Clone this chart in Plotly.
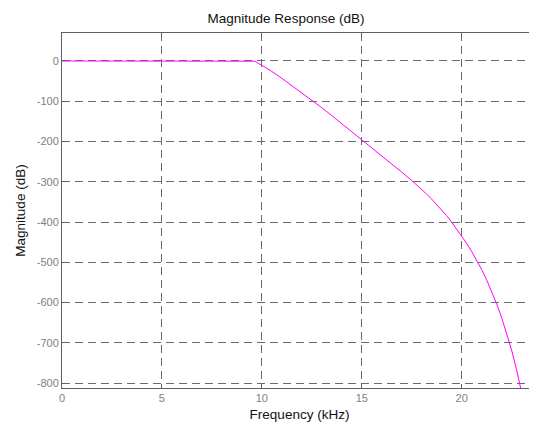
import plotly.graph_objects as go

# Frequency axis (kHz) and magnitude response (dB)
freq_khz = [0, 9.5, 9.6, 9.7, 9.8, 10.0, 10.5, 11.0, 11.5, 12.0, 12.6, 13.0, 13.5,
            14.0, 14.5, 15.1, 15.5, 16.0, 16.5, 17.0, 17.5, 17.75, 18.0, 18.25, 18.5,
            18.75, 19.0, 19.25, 19.5, 19.75, 20.0, 20.25, 20.5, 20.75, 21.0, 21.25,
            21.5, 21.75, 22.0, 22.25, 22.5, 22.75, 23.0, 23.05]
magnitude_db = [0, 0, -0.5, -2, -5, -9, -25.8, -43, -60.8, -79, -100.5, -116, -135.6,
                -155.4, -175.3, -199.3, -215.3, -235.4, -255.6, -275.9, -296.7, -307.5,
                -318.8, -330.6, -343.0, -356.1, -369.8, -384.3, -400.1, -416.8, -434.4,
                -453.0, -472.9, -494.4, -517.9, -543.6, -571.9, -602.9, -637.0, -675.1,
                -718.1, -767.1, -823.4, -835]

x_ticks = [0, 5, 10, 15, 20]
y_ticks = [0, -100, -200, -300, -400, -500, -600, -700, -800]

title_text = "Magnitude Response (dB)"
x_title = "Frequency (kHz)"
y_title = "Magnitude (dB)"

FONT = "Liberation Sans, Arial, sans-serif"
AXIS_COL = "#5f5f5f"
GRID_COL = "#6a6a6a"
TICK_COL = "#808080"

fig = go.Figure()
fig.add_trace(go.Scatter(
    x=freq_khz, y=magnitude_db, mode="lines",
    line=dict(color="#ff00ff", width=1),
    showlegend=False, hoverinfo="skip",
))

# page body has an 8px margin, so the figure is sized/offset to compensate
W, H = 529, 423
fig.update_layout(
    width=W, height=H,
    margin=dict(l=54, r=0, t=25, b=43),
    paper_bgcolor="white", plot_bgcolor="white",
    font=dict(family=FONT, color="#1a1a1a"),
    title=dict(text=title_text, x=(286 - 8) / W, xref="container", xanchor="center",
               y=1 - 10 / H, yref="container", yanchor="middle",
               font=dict(size=13.5, color="#111111", family=FONT)),
    showlegend=False,
)

fig.update_xaxes(
    range=[0, 23.77],
    tickvals=x_ticks, ticktext=[str(v) for v in x_ticks],
    showline=True, linecolor=AXIS_COL, linewidth=1, mirror="allticks",
    ticks="inside", ticklen=4, tickcolor=AXIS_COL,
    showgrid=True, gridcolor=GRID_COL, gridwidth=1, griddash="8px,5px",
    zeroline=False,
    tickfont=dict(size=11, color=TICK_COL, family=FONT),
    title=dict(text=x_title, font=dict(size=13.5, color="#111111", family=FONT), standoff=6),
)
fig.update_yaxes(
    range=[-812, 69.5],
    tickvals=y_ticks, ticktext=[str(v) for v in y_ticks],
    showline=True, linecolor=AXIS_COL, linewidth=1, mirror=False,
    ticks="inside", ticklen=4, tickcolor=AXIS_COL,
    showgrid=True, gridcolor=GRID_COL, gridwidth=1, griddash="8px,5px",
    zeroline=False,
    tickfont=dict(size=11, color=TICK_COL, family=FONT),
    title=dict(text=y_title, font=dict(size=13.5, color="#111111", family=FONT), standoff=8),
)

fig.write_html("out.html")
